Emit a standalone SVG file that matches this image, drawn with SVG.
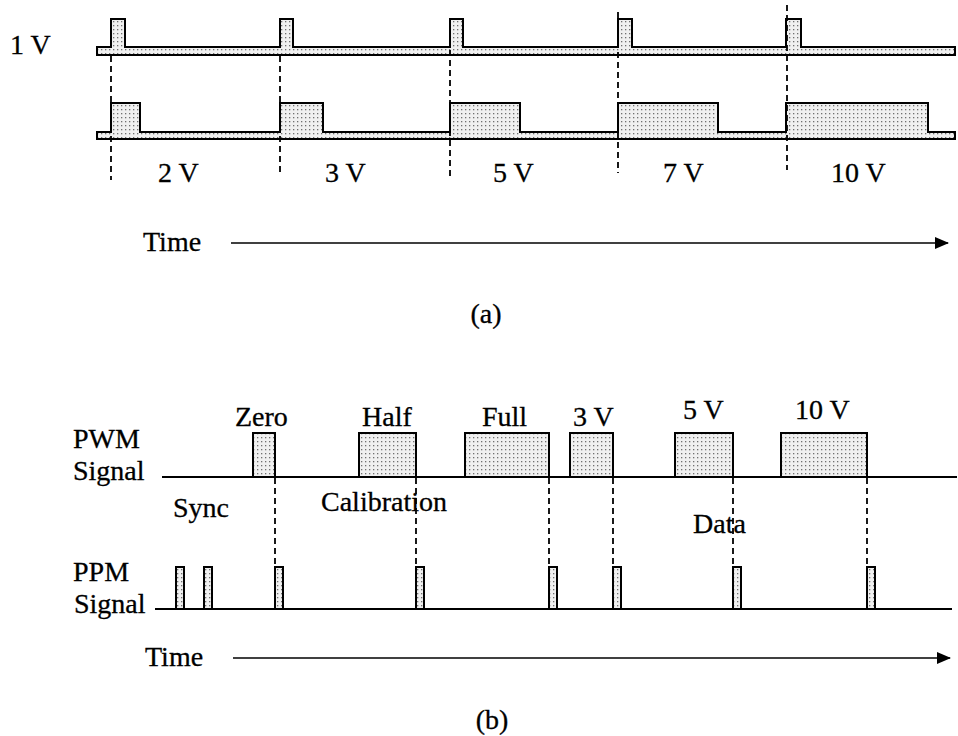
<svg xmlns="http://www.w3.org/2000/svg" width="958" height="736" viewBox="0 0 958 736">
<defs>
<pattern id="dots" width="4" height="4" patternUnits="userSpaceOnUse">
<rect width="4" height="4" fill="#f0f0f0"/>
<rect x="1" y="1" width="1.3" height="1.3" fill="#707070"/>
</pattern>
<marker id="arr" markerWidth="14" markerHeight="12" refX="13" refY="6" orient="auto" markerUnits="userSpaceOnUse">
<path d="M0,0 L14,6 L0,12 Z" fill="#000"/>
</marker>
</defs>
<style>
text{font-family:"Liberation Serif","Times New Roman",serif;font-size:28px;fill:#000;stroke:#000;stroke-width:0.3}
.sig{fill:url(#dots);stroke:#000;stroke-width:2;stroke-linejoin:miter}
.line{fill:none;stroke:#000;stroke-width:2}
.dash{fill:none;stroke:#000;stroke-width:1.8;stroke-dasharray:6 4}
.arrow{fill:none;stroke:#000;stroke-width:1.6;marker-end:url(#arr)}
</style>
<rect width="958" height="736" fill="#fff"/>

<g id="panel-a">
<g id="signal-1v">
<path class="sig" d="M97,47 H111 V19 H125 V47 H280 V19 H293 V47 H450 V19 H463 V47 H618 V19 H632 V47 H786 V19 H801 V47 H955 V55 H97 Z"/>
<text x="10" y="54">1 V</text>
</g>
<g id="signal-pwm-a">
<path class="sig" d="M97,132 H111 V103 H140 V132 H280 V103 H323 V132 H450 V103 H520 V132 H618 V103 H718 V132 H786 V103 H928 V132 H955 V139 H97 Z"/>
</g>
<g id="labels-a">
<text x="158" y="182">2 V</text>
<text x="325" y="182">3 V</text>
<text x="493" y="182">5 V</text>
<text x="663" y="182">7 V</text>
<text x="831" y="182">10 V</text>
<text x="143" y="251">Time</text>
<text x="486" y="323" text-anchor="middle">(a)</text>
</g>
</g>

<g id="panel-b">
<g id="pwm">
<text x="73" y="448">PWM</text>
<text x="73" y="480">Signal</text>
<path class="line" d="M162,477 H957"/>
<rect class="sig" x="253" y="433" width="22" height="44"/>
<rect class="sig" x="359" y="433" width="57" height="44"/>
<rect class="sig" x="465" y="433" width="84" height="44"/>
<rect class="sig" x="570" y="433" width="43" height="44"/>
<rect class="sig" x="675" y="433" width="58" height="44"/>
<rect class="sig" x="781" y="433" width="86" height="44"/>
<text x="235" y="426">Zero</text>
<text x="362" y="426">Half</text>
<text x="482" y="426">Full</text>
<text x="573" y="426">3 V</text>
<text x="683" y="419">5 V</text>
<text x="795" y="419">10 V</text>
</g>
<g id="ppm">
<text x="73" y="581">PPM</text>
<text x="74" y="613">Signal</text>
<path class="line" d="M155,609 H952"/>
<rect class="sig" x="176" y="567" width="8" height="42"/>
<rect class="sig" x="204" y="567" width="8" height="42"/>
<rect class="sig" x="275" y="567" width="8" height="42"/>
<rect class="sig" x="416" y="567" width="8" height="42"/>
<rect class="sig" x="549" y="567" width="8" height="42"/>
<rect class="sig" x="613" y="567" width="8" height="42"/>
<rect class="sig" x="733" y="567" width="8" height="42"/>
<rect class="sig" x="867" y="567" width="8" height="42"/>
</g>
<g id="labels-b">
<text x="173" y="517">Sync</text>
<text x="321" y="511">Calibration</text>
<text x="693" y="533">Data</text>
<text x="145" y="666">Time</text>
<text x="492" y="729" text-anchor="middle">(b)</text>
</g>
</g>

<g id="connectors">
<path class="dash" d="M111,56 V180"/>
<path class="dash" d="M280,56 V176"/>
<path class="dash" d="M450,50 V180"/>
<path class="dash" d="M618,12 V173"/>
<path class="dash" d="M787,5 V170"/>
<path class="arrow" d="M231,243 H948"/>
<path class="dash" d="M275,478 V564"/>
<path class="dash" d="M416,478 V564"/>
<path class="dash" d="M549,478 V564"/>
<path class="dash" d="M613,478 V564"/>
<path class="dash" d="M733,478 V564"/>
<path class="dash" d="M867,478 V564"/>
<path class="arrow" d="M233,658 H950"/>
</g>
</svg>
